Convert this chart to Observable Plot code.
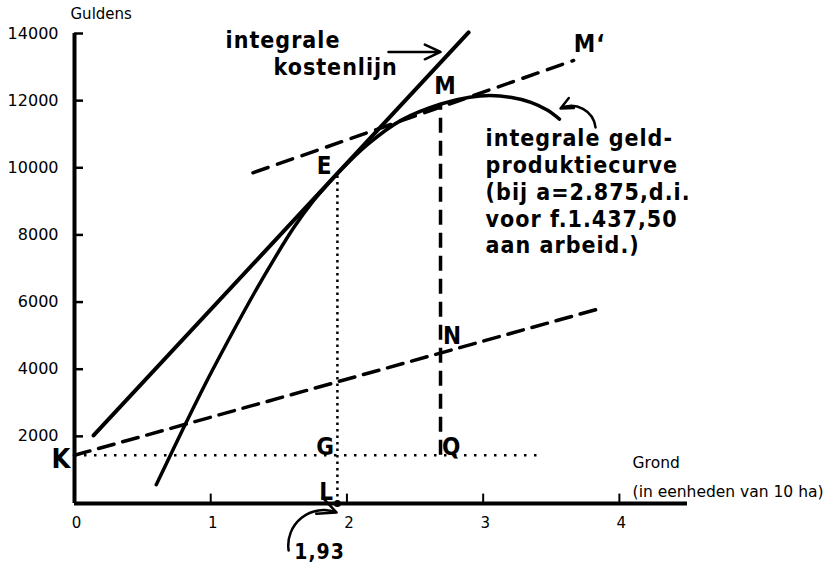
<!DOCTYPE html>
<html>
<head>
<meta charset="utf-8">
<script src="https://cdn.jsdelivr.net/npm/d3@7"></script>
<script src="https://cdn.jsdelivr.net/npm/@observablehq/plot@0.6"></script>
<style>
  html, body { margin: 0; padding: 0; background: #fff; }
  #chart svg { display: block; }
</style>
</head>
<body>
<div id="chart"></div>
<script>
// ---- data ----
const xTicks = [0, 1, 2, 3, 4];
const yTicks = [2000, 4000, 6000, 8000, 10000, 12000, 14000];

// integrale geld-produktiecurve
const prodX = [0.60, 0.73, 0.80, 0.95, 1.10, 1.32, 1.47, 1.61, 1.75, 1.85, 1.93, 2.15, 2.40, 2.69, 2.90, 3.05, 3.20, 3.35, 3.47, 3.56];
const prodY = [560, 1660, 2250, 3480, 4640, 6270, 7310, 8220, 9000, 9470, 9830, 10690, 11420, 11900, 12100, 12150, 12100, 11950, 11720, 11450];

// integrale kostenlijn (straight)
const costX = [0.14, 2.893];
const costY = [2026, 14031];

// dashed line from K through N
const lowX = [0, 3.85];
const lowY = [1437.5, 5800];

// dashed tangent through M to M'
const upX = [1.31, 3.664];
const upY = [9851, 13197];

const K = 1437.5;       // labour cost level
const xE = 1.93, yE = 9830;
const xM = 2.687, yM = 11900;
const xDotEnd = 3.43;

// point labels
const ptText = ["E", "G", "L", "Q", "N", "M", "M‘"];
const ptX = [1.836, 1.843, 1.850, 2.768, 2.775, 2.724, 3.781];
const ptY = [10039, 1668, 328, 1668, 4975, 12422, 13674];

// annotation texts
const kostText = ["integrale", "kostenlijn"];
const kostX = [1.109, 1.461];
const kostY = [13554, 12750];

const curveText = "integrale geld-\nproduktiecurve\n(bij a=2.875,d.i.\nvoor f.1.437,50\naan arbeid.)";
const curveTextX = 3.018, curveTextY = 7448;

const axisText = ["Grond", "(in eenheden van 10 ha)"];
const axisTextX = 4.097;
const axisTextY = [1043, 179];

// arrows: [x1, y1, x2, y2, bend]
const arrows = [
  [2.305, 13450, 2.687, 13450, 0],
  [3.825, 11201, 3.568, 11767, -55],
  [1.572, -1400, 1.924, -268, 60]
];

// ---- build ----
const prod = prodX.map((x, i) => ({x, y: prodY[i]}));
const cost = costX.map((x, i) => ({x, y: costY[i]}));
const low = lowX.map((x, i) => ({x, y: lowY[i]}));
const up = upX.map((x, i) => ({x, y: upY[i]}));
const pts = ptText.map((t, i) => ({t, x: ptX[i], y: ptY[i]}));
const kost = kostText.map((t, i) => ({t, x: kostX[i], y: kostY[i]}));
const axt = axisText.map((t, i) => ({t, x: axisTextX, y: axisTextY[i]}));
const arr = arrows.map(([x1, y1, x2, y2, bend]) => ({x1, y1, x2, y2, bend}));

const boldFont = "'DejaVu Sans Condensed', 'Liberation Sans Narrow', 'DejaVu Sans', sans-serif";
const regFont = "'DejaVu Sans', sans-serif";

const plot = Plot.plot({
  width: 837,
  height: 566,
  marginLeft: 74,
  marginRight: 150,
  marginTop: 33,
  marginBottom: 63,
  x: {domain: [0, 4.5], axis: null},
  y: {domain: [0, 14000], axis: null},
  style: {background: "#fff", color: "#000", fontFamily: regFont, overflow: "visible"},
  marks: [
    // axes
    Plot.ruleX([0], {y1: 0, y2: 14000, stroke: "#000", strokeWidth: 4}),
    Plot.ruleY([0], {x1: 0, x2: 4.5, stroke: "#000", strokeWidth: 4}),
    Plot.ruleY(yTicks, {x1: 0, x2: 0.066, stroke: "#000", strokeWidth: 2.5}),
    Plot.ruleX(xTicks.slice(1), {y1: 0, y2: 280, stroke: "#000", strokeWidth: 2}),
    Plot.text(yTicks, {x: 0, y: d => d, text: d => String(d), dx: -16, textAnchor: "end", fontSize: 16, fontFamily: regFont}),
    Plot.text(xTicks, {x: d => d, y: 0, text: d => String(d), dy: 20, dx: 2, fontSize: 15, fontFamily: regFont}),
    Plot.text(["Guldens"], {x: 0, y: 14000, text: d => d, dx: -4, dy: -15, textAnchor: "start", lineAnchor: "bottom", fontSize: 15, fontFamily: regFont}),
    Plot.text(axt, {x: "x", y: "y", text: "t", textAnchor: "start", lineAnchor: "bottom", fontSize: 15.5, fontFamily: regFont}),

    // dotted guides
    Plot.ruleY([K], {x1: 0, x2: xDotEnd, stroke: "#000", strokeWidth: 2.5, strokeDasharray: "2.5,7.5"}),
    Plot.ruleX([xE], {y1: 0, y2: yE, stroke: "#000", strokeWidth: 2.5, strokeDasharray: "2.5,4"}),
    // dashed
    Plot.ruleX([xM], {y1: K, y2: yM, stroke: "#000", strokeWidth: 3.5, strokeDasharray: "15,8"}),
    Plot.line(low, {x: "x", y: "y", stroke: "#000", strokeWidth: 3.5, strokeDasharray: "16,9"}),
    Plot.line(up, {x: "x", y: "y", stroke: "#000", strokeWidth: 3.5, strokeDasharray: "16,10"}),
    // solid
    Plot.line(cost, {x: "x", y: "y", stroke: "#000", strokeWidth: 4}),
    Plot.line(prod, {x: "x", y: "y", curve: "catmull-rom", stroke: "#000", strokeWidth: 3.5}),
    Plot.dot([{x: xE, y: 0}], {x: "x", y: "y", r: 3.5, fill: "#000"}),

    // arrows
    ...arr.map(a => Plot.arrow([a], {x1: "x1", y1: "y1", x2: "x2", y2: "y2", bend: a.bend, stroke: "#000", strokeWidth: 2.5, headLength: 13, headAngle: 50})),

    // bold labels
    Plot.text(pts, {x: "x", y: "y", text: "t", fontSize: 24, fontWeight: "bold", fontFamily: boldFont}),
    Plot.text(["K"], {x: 0, y: K, text: d => d, dx: -13, dy: 4, fontSize: 27, fontWeight: "bold", fontFamily: boldFont}),
    Plot.text(kost, {x: "x", y: "y", text: "t", textAnchor: "start", lineAnchor: "bottom", fontSize: 23, fontWeight: "bold", fontFamily: boldFont}),
    Plot.text([curveText], {x: curveTextX, y: curveTextY, text: d => d, textAnchor: "start", lineAnchor: "bottom", lineHeight: 1.17, fontSize: 23, fontWeight: "bold", fontFamily: boldFont}),
    Plot.text(["1,93"], {x: 1.579, y: -1460, text: d => d, dx: 30, dy: 0, fontSize: 21, fontWeight: "bold", fontFamily: boldFont})
  ]
});

d3.select(plot).selectAll('g[font-weight="bold"] text').style("letter-spacing", "1px");
document.getElementById("chart").appendChild(plot);
</script>
</body>
</html>
